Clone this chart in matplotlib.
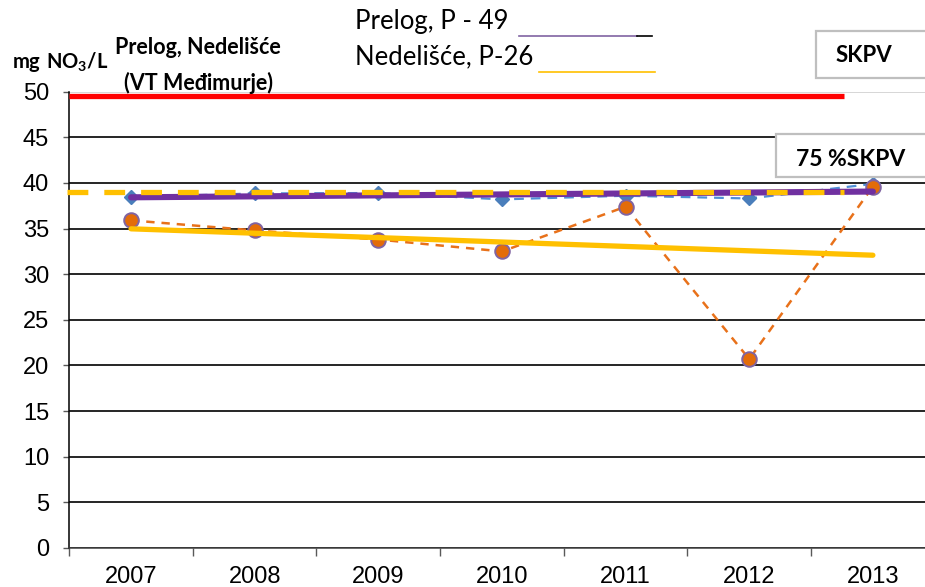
import numpy as np
import matplotlib
matplotlib.use("Agg")
import matplotlib.pyplot as plt
from matplotlib.lines import Line2D
from matplotlib.patches import Rectangle

plt.rcParams["font.family"] = ["Liberation Sans", "DejaVu Sans"]
plt.rcParams["lines.scale_dashes"] = False
plt.rcParams["mathtext.fontset"] = "custom"
plt.rcParams["mathtext.rm"] = "Lato"
plt.rcParams["mathtext.bf"] = "Lato:bold"

# Nitrate concentrations (mg NO3/L), VT Međimurje
years = ["2007", "2008", "2009", "2010", "2011", "2012", "2013"]
prelog_p49 = [38.45, 38.85, 38.9, 38.2, 38.6, 38.3, 39.9]
nedelisce_p26 = [35.9, 34.8, 33.8, 32.5, 37.4, 20.7, 39.6]
skpv_level = 49.5
skpv75_level = 39.0
y_ticks = list(range(0, 55, 5))

W, H = 925, 587
fig = plt.figure(figsize=(W / 100, H / 100), dpi=100)


def fx(px):
    return px / W


def fy(py):
    return 1 - py / H


ax = fig.add_axes([fx(69.2), fy(548), 865.5 / W, (548 - 91.7) / H])
x = np.arange(len(years))

# measured series
ax.plot(x, prelog_p49, color="#4F8FD6", lw=1.6, dashes=(7, 5),
        marker="D", markersize=7.2, markerfacecolor="#4A7EBB",
        markeredgecolor="#4A7EBB", zorder=3)
ax.plot(x, nedelisce_p26, color="#E8711A", lw=1.8, dashes=(6, 5),
        marker="o", markersize=10.5, markerfacecolor="#E36C09",
        markeredgecolor="#8064A2", markeredgewidth=1.4, zorder=4)

# linear trends
for series, col, lw in [(prelog_p49, "#7030A0", 4.4), (nedelisce_p26, "#FFC000", 3.8)]:
    k, b = np.polyfit(x, series, 1)
    ax.plot(x, k * x + b, color=col, lw=lw, solid_capstyle="round", zorder=5)

# threshold lines
ax.plot([-0.52, 5.77], [skpv75_level] * 2, color="#FFC000", lw=3.8,
        dashes=(15, 11.5), solid_capstyle="butt", zorder=6, clip_on=False)
ax.plot([-0.5, 5.77], [skpv_level] * 2, color="#FF0000", lw=3.8,
        solid_capstyle="butt", zorder=6)

ax.set_xlim(-0.5, 6.5)
ax.set_ylim(0, 50)
ax.set_yticks(y_ticks, [str(v) for v in y_ticks])
ax.set_xticks(x, years)
ax.set_xticks(np.arange(-0.5, 7, 1), minor=True)
ax.tick_params(axis="both", which="major", labelsize=17,
               labelfontfamily="Liberation Sans")
ax.tick_params(axis="x", which="major", length=0, pad=13)
ax.tick_params(axis="x", which="minor", length=6, width=1, color="#595959")
ax.tick_params(axis="y", length=4.5, width=1, color="#595959", pad=10)

ax.yaxis.grid(True, color="black", lw=1.2)
ax.get_ygridlines()[-1].set_color("#d0d0d0")
ax.set_axisbelow(True)
for s in ["top", "right"]:
    ax.spines[s].set_visible(False)
ax.spines["left"].set_linewidth(1.1)
ax.spines["bottom"].set_linewidth(1.1)
ax.spines["bottom"].set_color("#404040")

# axis titles
fig.text(fx(12), fy(62), r"$\mathbf{mg\ NO_3/L}$", fontsize=14.5,
         ha="left", va="center")
fig.text(fx(198), fy(48), "Prelog, Nedelišće", fontsize=15.5, fontweight="bold",
         family="Lato", ha="center", va="center")
fig.text(fx(198), fy(83), "(VT Međimurje)", fontsize=15.5, fontweight="bold",
         family="Lato", ha="center", va="center")

# legend text with coloured underlines
fig.text(fx(355), fy(22), "Prelog, P - 49", fontsize=18.5, family="Lato",
         ha="left", va="center")
fig.text(fx(355), fy(57), "Nedelišće, P-26", fontsize=18.5, family="Lato",
         ha="left", va="center")
fig.add_artist(Line2D([fx(519), fx(637)], [fy(36), fy(36)], color="#8064A2", lw=1.2))
fig.add_artist(Line2D([fx(637), fx(652)], [fy(36), fy(36)], color="black", lw=1.2))
fig.add_artist(Line2D([fx(539), fx(655)], [fy(72), fy(72)], color="#FFC000", lw=1.2))

# threshold label boxes
for (x0, y0, x1, y1), label, cx, cy, fs in [
    ((816, 31, 935, 78), "SKPV", 864, 56, 16),
    ((776, 134, 935, 177), "75 %SKPV", 851, 160, 16.5),
]:
    fig.add_artist(Rectangle((fx(x0), fy(y1)), fx(x1) - fx(x0), fy(y0) - fy(y1),
                             facecolor="white", edgecolor="#bfbfbf", lw=1.6,
                             zorder=10))
    fig.text(fx(cx), fy(cy), label, fontsize=fs, fontweight="bold", family="Lato",
             ha="center", va="center", zorder=11)

fig.savefig("out.png", dpi=100)
